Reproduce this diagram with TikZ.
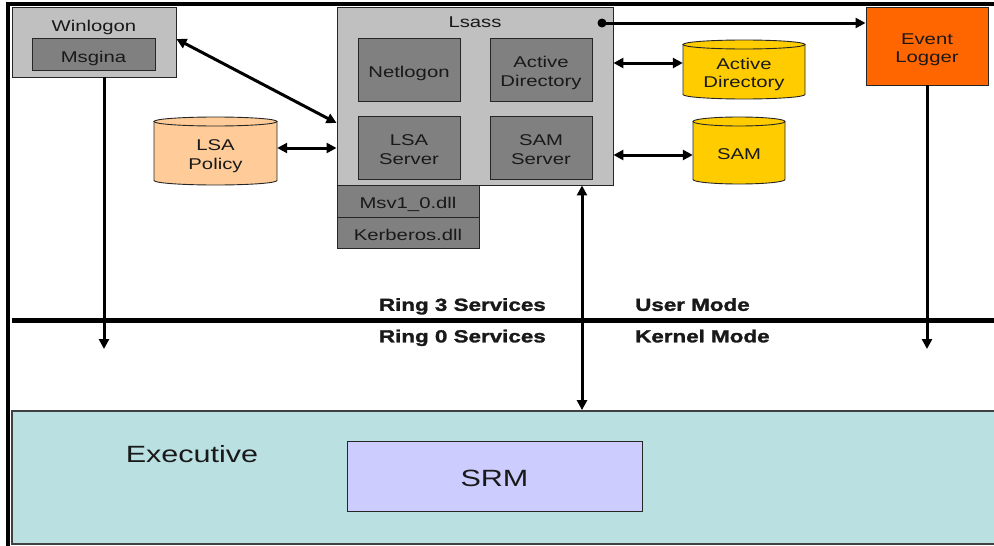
\documentclass[tikz,border=0pt]{standalone}
\usepackage{fontspec}
\setmainfont{Liberation Sans}
\newfontfamily\wf[FakeStretch=1.3]{Liberation Sans}
\newfontfamily\rf[FakeStretch=1.28,FakeBold=1.6]{Liberation Sans}
\usetikzlibrary{arrows.meta}
\definecolor{lgray}{HTML}{C0C0C0}
\definecolor{dgray}{HTML}{808080}
\definecolor{evorange}{HTML}{FF6600}
\definecolor{dbyellow}{HTML}{FFCC00}
\definecolor{peach}{HTML}{FFCC99}
\definecolor{teal0}{HTML}{BAE0E2}
\definecolor{lilac}{HTML}{CCCCFF}
\newcommand\dbcyl[7]{%
  \fill[#6] (#2-#3,#4+4.5) -- (#2-#3,#5-4.5) arc[start angle=180,end angle=360,x radius=#3pt,y radius=4.5pt] -- (#2+#3,#4+4.5) -- cycle;
  \draw[cylline] (#2-#3,#4+4.5) -- (#2-#3,#5-4.5) arc[start angle=180,end angle=360,x radius=#3pt,y radius=4.5pt] -- (#2+#3,#4+4.5);
  \draw[cylline,fill=#6] (#2,#4+4.5) ellipse[x radius=#3pt,y radius=4.5pt];
  \node[minimum width=2*#3, minimum height=#5-#4] (#1) at (#2,{(#4+#5)/2+1.5}) {};
  \node[txt] (#1-t) at (#1) {#7};
}
\begin{document}
\begin{tikzpicture}[x=1pt,y=-1pt,
  every node/.style={font=\wf\fontsize{15.6}{18.5}\selectfont, align=center, inner sep=0pt, text depth=0pt, text=black!90},
  txt/.style={yshift=-2pt},
  box/.style={draw=black!85, line width=0.9pt},
  outer/.style={box, fill=lgray},
  inner/.style={box, fill=dgray},
  cylline/.style={draw=black!85, line width=0.9pt},
  arr/.style={line width=3pt, -{Triangle[length=10pt,width=10pt]}},
  darr/.style={line width=3pt, {Triangle[length=10pt,width=10pt]}-{Triangle[length=10pt,width=10pt]}},
  ring/.style={font=\rf\bfseries\fontsize{17.5}{19}\selectfont, text depth=0pt},
]
\useasboundingbox (0,0) rectangle (994,546);
% outer frame
\draw[line width=4.5pt] (5.5,4) -- (994,4);
\draw[line width=4.5pt] (8,2) -- (8,546);

% executive
\node[draw=black!75, line width=1.8pt, fill=teal0, minimum width=986, minimum height=133] (exec) at (505,477.5) {};
\node[font=\wf\fontsize{23.5}{26}\selectfont] (exl) at (192,454) {Executive};
\node[box, fill=lilac, minimum width=295, minimum height=70] (srm) at (494.5,476) {};
\node[txt, font=\wf\fontsize{23.5}{26}\selectfont] (srm-t) at (srm) {SRM};

% Winlogon
\node[outer, minimum width=164, minimum height=70] (winlogon) at (94,42) {};
\node (winl) at (94,25.5) {Winlogon};
\node[inner, minimum width=123, minimum height=32] (msgina) at (93.5,54) {};
\node[txt] (msgina-t) at (93.5,55) {Msgina};

% Lsass
\node[outer, minimum width=276, minimum height=178] (lsass) at (475,96) {};
\node (lsassl) at (475,22.5) {Lsass};
\node[inner, minimum width=102, minimum height=63] (netlogon) at (409,69.5) {};
\node[inner, minimum width=102, minimum height=63] (adin) at (541,69.5) {};
\node[inner, minimum width=102, minimum height=63] (lsasrv) at (409,147.5) {};
\node[inner, minimum width=102, minimum height=63] (samsrv) at (541,147.5) {};
\node[inner, minimum width=142, minimum height=32] (msv) at (408,201) {};
\node[inner, minimum width=142, minimum height=31] (kerb) at (408,232.5) {};
\node[txt] (netlogon-t) at (netlogon) {Netlogon};
\node[txt] (adin-t) at (adin) {Active\\Directory};
\node[txt] (lsasrv-t) at (lsasrv) {LSA\\Server};
\node[txt] (samsrv-t) at (samsrv) {SAM\\Server};
\node[txt] (msv-t) at (msv) {Msv1\_0.dll};
\node[txt] (kerb-t) at (kerb) {Kerberos.dll};

% Event logger
\node[box, fill=evorange, minimum width=122, minimum height=78] (evlog) at (927,46) {};
\node[txt] (evlog-t) at (evlog) {Event\\Logger};

% databases
\dbcyl{lsapol}{215.5}{61.5}{117}{185}{peach}{LSA\\Policy}
\dbcyl{addb}{744}{61}{40}{99}{dbyellow}{Active\\Directory}
\dbcyl{samdb}{739}{46}{117}{184}{dbyellow}{SAM}

% mode divider
\draw[line width=5pt] (12,320) -- (994,320);
\node[ring, anchor=east] (r3) at (546,304.5) {Ring 3 Services};
\node[ring, anchor=west] (um) at (635,304.5) {User Mode};
\node[ring, anchor=east] (r0) at (546,336) {Ring 0 Services};
\node[ring, anchor=west] (km) at (635,336) {Kernel Mode};

% connectors
\draw[darr] ([yshift=3pt]winlogon.east) -- ([yshift=-27pt]lsass.west);
\draw[darr] ([yshift=4.5pt]lsapol.east) -- ([yshift=4.5pt]lsapol.east -| lsass.west);
\draw[darr] ([yshift=8pt]addb.west -| lsass.east) -- ([yshift=8pt]addb.west);
\draw[darr] ([yshift=-3pt]samdb.west -| lsass.east) -- ([yshift=-3pt]samdb.west);
\coordinate (dot) at (602,23);
\fill (dot) circle[radius=4.5pt];
\draw[arr] (dot) -- (dot -| evlog.west);
\coordinate (wend) at (104,349);
\draw[arr] (wend |- winlogon.south) -- (wend);
\draw[arr] (evlog.south) -- (evlog.south |- wend);
\coordinate (vx) at (582,0);
\draw[darr] (lsass.south -| vx) -- (exec.north -| vx);
\end{tikzpicture}
\end{document}
